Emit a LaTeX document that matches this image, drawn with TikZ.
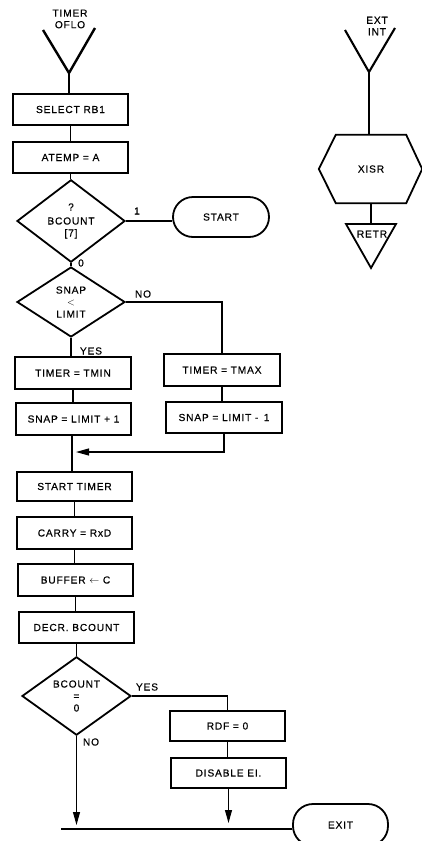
\documentclass[tikz,border=0pt]{standalone}
\usepackage{fontspec}
\setmainfont{Liberation Sans}[LetterSpace=8, FakeBold=0.4]
\usetikzlibrary{shapes.geometric,arrows.meta}
\begin{document}
\begin{tikzpicture}[x=1pt,y=-1pt,
  every node/.style={font=\fontsize{10.2}{12}\selectfont, inner sep=0pt, align=center},
  box/.style={draw, line width=1.8pt, minimum width=115pt, minimum height=31pt},
  dec/.style={draw, diamond, line width=1.8pt, minimum width=108pt, minimum height=71pt},
  term/.style={draw, rectangle, rounded corners=20pt, line width=1.8pt, minimum width=96pt, minimum height=40pt},
  conn/.style={line width=1.1pt},
  arr/.style={conn, -{Triangle[length=13pt,width=7pt]}},
  vin/.style={line width=2.4pt},
  shp/.style={line width=1.8pt}
]
\useasboundingbox (0,0) rectangle (422,841);

% ---- left entry
\node (tlabel) at (70,19) {TIMER\\[-0.5pt]OFLO};
\coordinate (tv) at (69,73);
\draw[vin] (43,30) -- (tv) -- (95,28);

\node[box] (sel) at (70.5,109.5) {SELECT RB1};
\node[box] (atemp) at (70.5,157.5) {ATEMP = A};
\node[dec] (d1) at (71,221) {?\\[2pt]BCOUNT\\{[7]}};
\node[term] (start) at (221,217) {START};
\node[dec, minimum height=70pt] (d2) at (71,302) {SNAP\\$<$\\LIMIT};
\node[box, minimum width=116pt, minimum height=32pt] (tmin) at (73,373) {TIMER = TMIN};
\node[box, minimum width=115pt, minimum height=32pt] (lp1) at (73.5,419) {SNAP = LIMIT + 1};
\node[box, minimum width=116pt, minimum height=32pt] (tmax) at (222,370) {TIMER = TMAX};
\node[box, minimum width=116pt, minimum height=31pt] (lm1) at (224,417.5) {SNAP = LIMIT -\, 1};
\node[box, minimum height=29pt] (stt) at (74.5,486.5) {START TIMER};
\node[box, minimum height=32pt] (carry) at (74.5,533) {CARRY = RxD};
\node[box, minimum height=32pt] (buf) at (75.5,580) {BUFFER $\leftarrow$ C};
\node[box, minimum height=31pt] (decr) at (76.5,627.5) {DECR. BCOUNT};
\node[dec, minimum width=109pt, minimum height=70pt] (d3) at (76.5,696) {BCOUNT\\=\\0};
\node[box, minimum height=30pt] (rdf) at (227.5,726) {RDF = 0};
\node[box, minimum height=30pt] (dis) at (228.5,773) {DISABLE EI.};
\node[term, minimum width=95pt, minimum height=42pt] (exit) at (340.5,825) {EXIT};

% labels
\node (l1) at (137,211) {1};
\node (l0) at (81,263) {0};
\node (lno1) at (143,294) {NO};
\node (lyes1) at (91,351) {YES};
\node (lyes2) at (147,687) {YES};
\node (lno2) at (91,742) {NO};

% connectors
\draw[conn] (tv) -- (tv |- sel.north);
\draw[conn] (sel.south) -- (sel.south |- atemp.north);
\draw[conn] (atemp.south) -- (atemp.south |- d1.north);
\draw[conn] (d1.east) -- (d1.east -| start.west);
\draw[conn] (d1.south) -- (d1.south |- d2.north);
\draw[conn] (d2.east) -| (tmax.north);
\draw[conn] (d2.south) -- (d2.south |- tmin.north);
\draw[conn] (tmin.south) -- (tmin.south |- lp1.north);
\draw[conn] (tmax.south) -- (tmax.south |- lm1.north);
\coordinate (mrg) at (72,452);
\draw[conn] (lp1.south -| mrg) -- (mrg |- stt.north);
\draw[arr] (lm1.south) |- ([xshift=4pt]mrg);
\draw[conn] (stt.south) -- (stt.south |- carry.north);
\draw[conn] (carry.south) -- (carry.south |- buf.north);
\draw[conn] (buf.south) -- (buf.south |- decr.north);
\draw[conn] (decr.south) -- (decr.south |- d3.north);
\draw[conn] (d3.east) -| (rdf.north);
\draw[conn] (rdf.south) -- (rdf.south |- dis.north);
\coordinate (bl) at (61,829);
\draw[arr] (d3.south) -- ([yshift=4pt]d3.south |- bl);
\draw[arr] (dis.south) -- ([yshift=6pt]dis.south |- bl);
\draw[conn] (bl) -- (bl -| exit.west);

% ---- right: external interrupt
\node (elabel) at (377,26) {EXT\\[-0.5pt]INT};
\coordinate (ev) at (369,72);
\draw[vin, line width=2.1pt] (345,30) -- (ev) -- (395,28);
\node[minimum width=70pt, minimum height=68pt] (xisr) at (371,169) {XISR};
\draw[shp] (xisr.north west) -- (xisr.north east) -- ([xshift=16pt]xisr.east)
  -- (xisr.south east) -- (xisr.south west) -- ([xshift=-17pt]xisr.west) -- cycle;
\draw[conn] (ev) -- (ev |- xisr.north);
\coordinate (rtop) at (371,224);
\draw[shp] (346,224) -- (396,224) -- (371,268) -- cycle;
\node (retr) at (372,234) {RETR};
\draw[conn] (xisr.south) -- (xisr.south |- rtop);
\end{tikzpicture}
\end{document}
